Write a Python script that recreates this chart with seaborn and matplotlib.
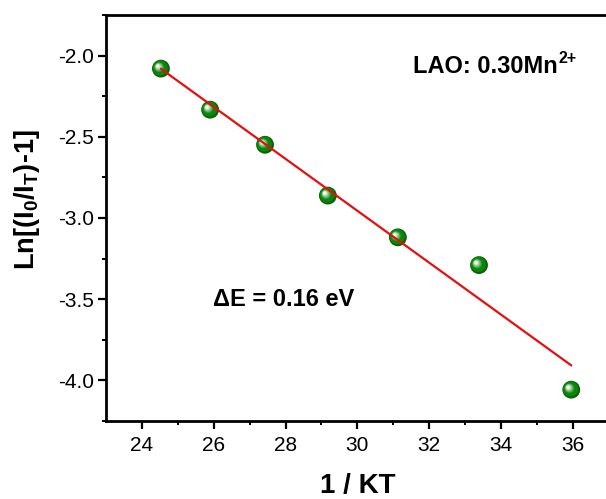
import numpy as np
import pandas as pd
import matplotlib
matplotlib.use("Agg")
import matplotlib.pyplot as plt
from matplotlib.transforms import offset_copy
from matplotlib.colors import to_rgb
import seaborn as sns

# Arrhenius-type data: 1/kT (eV^-1) vs ln[(I0/IT)-1]
inv_kt = [24.53, 25.90, 27.43, 29.18, 31.13, 33.39, 35.96]
ln_ratio = [-2.080, -2.333, -2.549, -2.862, -3.119, -3.290, -4.057]
x_ticks = [24, 26, 28, 30, 32, 34, 36]
y_ticks = [-4.0, -3.5, -3.0, -2.5, -2.0]

df = pd.DataFrame({"inv_kt": inv_kt, "ln_ratio": ln_ratio})

sns.set_theme(style="ticks")
plt.rcParams["font.family"] = ["Liberation Sans", "DejaVu Sans"]
plt.rcParams["text.color"] = "black"
plt.rcParams["axes.labelcolor"] = "black"
plt.rcParams["xtick.color"] = "black"
plt.rcParams["ytick.color"] = "black"
plt.rcParams["mathtext.fontset"] = "custom"
plt.rcParams["mathtext.rm"] = "Liberation Sans:bold"
plt.rcParams["mathtext.bf"] = "Liberation Sans:bold"
plt.rcParams["mathtext.it"] = "Liberation Sans:bold"
plt.rcParams["mathtext.default"] = "bf"

W, H = 606, 499
fig = plt.figure(figsize=(W / 100, H / 100), dpi=100)
ax = fig.add_axes([106 / W, 78 / H, 502.6 / W, 406 / H])


def shifted(dx, dy):
    return offset_copy(ax.transData, fig=fig, x=dx, y=dy, units="points")


# Shaded spheres: dark rim, bright green body, then a soft highlight toward upper-left
sns.scatterplot(data=df, x="inv_kt", y="ln_ratio", ax=ax, s=165,
                color="#0a620a", edgecolor="none", linewidth=0, zorder=3)
sns.scatterplot(data=df, x="inv_kt", y="ln_ratio", ax=ax, s=120,
                color="#0b860b", edgecolor="none", linewidth=0, zorder=3,
                transform=shifted(-0.5, 0.5))
c0 = np.array(to_rgb("#249624"))
c1 = np.array([1.0, 1.0, 1.0])
n_layers = 9
for i in range(n_layers):
    t = i / (n_layers - 1)
    size = 50 * (1 - t) ** 1.5 + 4 * t
    col = c0 * (1 - t) + c1 * t
    sns.scatterplot(data=df, x="inv_kt", y="ln_ratio", ax=ax, s=size,
                    color=tuple(col), edgecolor="none", linewidth=0, zorder=3,
                    transform=shifted(-1.3 - 1.0 * t, 1.0 + 0.8 * t))

# Linear fit line
sns.regplot(data=df, x="inv_kt", y="ln_ratio", ax=ax, scatter=False, ci=None,
            color="#e31010", line_kws={"linewidth": 1.6, "zorder": 4})

ax.set_xlim(23, 37)
ax.set_ylim(-4.25, -1.75)
ax.set_xticks(x_ticks)
ax.set_yticks(y_ticks)
ax.set_xticks(np.arange(25, 37, 2), minor=True)
ax.set_yticks(np.arange(-4.25, -1.74, 0.25), minor=True)
ax.set_xticklabels([str(v) for v in x_ticks])
ax.set_yticklabels([f"{v:.1f}" for v in y_ticks])

for side in ["left", "bottom", "top", "right"]:
    ax.spines[side].set_linewidth(2.0)
    ax.spines[side].set_color("black")
ax.spines["right"].set_visible(False)

ax.tick_params(axis="both", which="major", direction="out", length=5.5,
               width=1.6, labelsize=15, color="black", labelcolor="black")
ax.tick_params(axis="both", which="minor", direction="out", length=3,
               width=1.4, color="black")
ax.tick_params(axis="x", which="major", pad=5)
ax.tick_params(axis="y", which="major", pad=3)

ax.set_xlabel("1 / KT", fontsize=20, fontweight="bold", labelpad=13,
              color="black")
ax.set_ylabel(r"Ln[(I$_0$/I$_T$)-1]", fontsize=19.5, fontweight="bold",
              color="black")
ax.yaxis.set_label_coords(-0.127, 0.544)

# Sample label with a tight "2+" superscript
sample = ax.text(413, H - 73, "LAO: 0.30Mn", transform=None, fontsize=17,
                 fontweight="bold", ha="left", va="baseline", color="black")
fig.canvas.draw()
bb = sample.get_window_extent()
ax.text(bb.x1 + 1, H - 73 + 10, "2+", transform=None, fontsize=11.5,
        fontweight="bold", ha="left", va="baseline", color="black")

ax.text(213, H - 306, "ΔE = 0.16 eV", transform=None, fontsize=17,
        fontweight="bold", ha="left", va="baseline", color="black")

fig.savefig("out.png", dpi=100)
